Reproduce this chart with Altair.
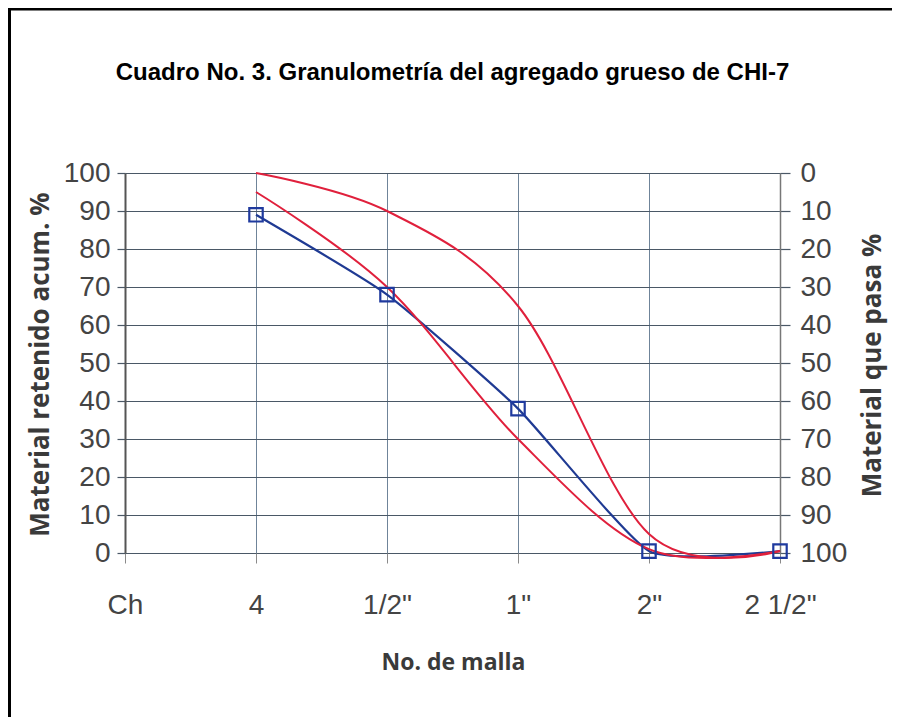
import altair as alt
import pandas as pd

# ---- data ----
mallas = ["Ch", "4", '1/2"', '1"', '2"', '2 1/2"']
muestra_mallas = ["4", '1/2"', '1"', '2"', '2 1/2"']
retenido_muestra = [89, 68, 38, 0.5, 0.5]          # blue, squares
limite_superior = [100, 90, 65, 5, 0.5]            # red upper limit
limite_inferior = [95, 70, 30, 1, 0.5]             # red lower limit
ticks_y = [0, 10, 20, 30, 40, 50, 60, 70, 80, 90, 100]

df_muestra = pd.DataFrame({"malla": muestra_mallas, "retenido": retenido_muestra})
df_limites = pd.concat([
    pd.DataFrame({"malla": muestra_mallas, "retenido": limite_superior, "serie": "sup"}),
    pd.DataFrame({"malla": muestra_mallas, "retenido": limite_inferior, "serie": "inf"}),
])

NARROW = "Liberation Sans"
BOLDT = "Open Sans"
GRID = "#4a5866"

x_enc = alt.X(
    "malla:N",
    sort=mallas,
    scale=alt.Scale(type="point", domain=mallas, padding=0),
    axis=alt.Axis(
        title="No. de malla",
        grid=True, gridColor="#6f8499", gridWidth=1,
        domain=False,
        ticks=True, tickSize=10, tickColor="#8a8a8a", tickWidth=1,
        labelAngle=0, labelFont=NARROW, labelFontSize=28, labelColor="#444444",
        labelBaseline="middle", labelPadding=42,
        titleFont=BOLDT, titleFontSize=23, titleFontWeight="bold", titleColor="#3a3a3a",
        titleX=328, titleY=109, titleBaseline="middle", titleAlign="center",
    ),
)

y_left = alt.Y(
    "retenido:Q",
    scale=alt.Scale(domain=[0, 100], nice=False),
    axis=alt.Axis(
        orient="left", values=ticks_y,
        title="Material retenido acum. %",
        grid=True, gridColor=GRID, gridWidth=1.2,
        domain=True, domainColor="#555555", domainWidth=2,
        tickSize=8, tickColor=GRID, tickWidth=1.2,
        labelFont=NARROW, labelFontSize=28, labelColor="#444444", labelPadding=7,
        titleFont=BOLDT, titleFontSize=26, titleFontWeight="bold", titleColor="#3a3a3a",
        titleAngle=270, titleX=-85, titleY=191, titleBaseline="middle", titleAlign="center",
    ),
)

y_none = alt.Y("retenido:Q", scale=alt.Scale(domain=[0, 100], nice=False), axis=None)

y_right = alt.Y(
    "retenido:Q",
    scale=alt.Scale(domain=[0, 100], nice=False),
    axis=alt.Axis(
        orient="right", values=ticks_y, labelExpr="100 - datum.value",
        title="Material que pasa %",
        grid=False,
        domain=True, domainColor="#777777", domainWidth=1.5,
        tickSize=10, tickColor=GRID, tickWidth=1.2,
        labelFont=NARROW, labelFontSize=28, labelColor="#444444", labelPadding=10,
        titleFont=BOLDT, titleFontSize=26, titleFontWeight="bold", titleColor="#3a3a3a",
        titleAngle=270, titleX=92, titleY=192, titleBaseline="middle", titleAlign="center",
    ),
)

red = alt.Chart(df_limites).mark_line(
    interpolate="cardinal", tension=0, color="#e0203c", strokeWidth=2
).encode(x=x_enc, y=y_left, detail="serie:N")

blue = alt.Chart(df_muestra).mark_line(
    interpolate="cardinal", tension=0.5, color="#1f3a93", strokeWidth=2.2
).encode(x=x_enc, y=y_none)

squares = alt.Chart(df_muestra).mark_point(
    shape="square", filled=False, size=180, strokeWidth=2.2, color="#1f3a9e", opacity=1
).encode(x=x_enc, y=y_right)

frame_df = pd.DataFrame({"k": [0]})
frame_left = alt.Chart(frame_df).mark_rule(color="black", strokeWidth=3).encode(
    x=alt.value(-115.5), y=alt.value(-165), y2=alt.value(545)
)
frame_top = alt.Chart(frame_df).mark_rule(color="black", strokeWidth=3).encode(
    x=alt.value(-117), x2=alt.value(775), y=alt.value(-164)
)

chart = alt.layer(blue, red, squares, frame_left, frame_top).resolve_scale(
    y="independent"
).properties(
    width=655,
    height=380,
    title=alt.TitleParams(
        "Cuadro No. 3. Granulometría del agregado grueso de CHI-7",
        font=NARROW, fontSize=24, fontWeight="bold", color="#000000",
        anchor="middle", offset=0, dy=97, baseline="alphabetic",
    ),
    autosize=alt.AutoSizeParams(type="none"),
    padding={"left": 117, "top": 165, "right": 112, "bottom": 164},
).configure_view(
    fill="#a7d3f2", stroke="#555555", strokeWidth=1.5
).configure(background="white")

chart.save("out.html", embed_options={"renderer": "svg", "actions": False})
